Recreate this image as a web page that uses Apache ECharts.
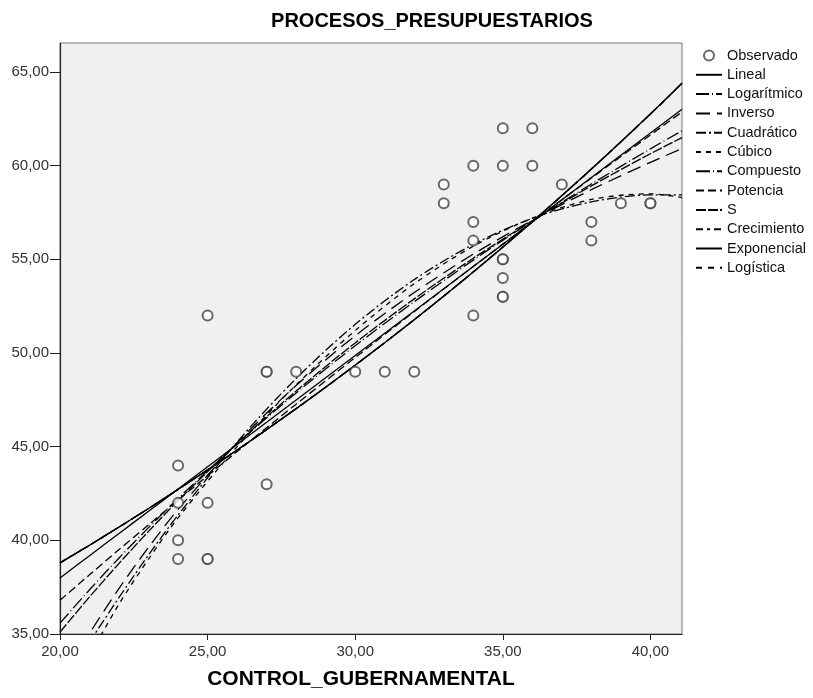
<!DOCTYPE html>
<html>
<head>
<meta charset="utf-8">
<script src="https://cdn.jsdelivr.net/npm/echarts@6/dist/echarts.min.js"></script>
<style>
  html, body { margin: 0; padding: 0; background: #fff; }
  #chart { width: 813px; height: 698px; }
</style>
</head>
<body>
<div id="chart"></div>
<script>
// observed points (CONTROL_GUBERNAMENTAL, PROCESOS_PRESUPUESTARIOS)
const obsX = [24, 24, 24, 24, 25, 25, 25, 25, 27, 27, 27, 28, 30, 31, 32, 33, 33,
  34, 34, 34, 34, 35, 35, 35, 35, 35, 35, 35, 36, 36, 37, 38, 38, 39, 40, 40];
const obsY = [44, 42, 40, 39, 52, 42, 39, 39, 49, 49, 43, 49, 49, 49, 49, 59, 58,
  60, 57, 56, 52, 62, 60, 55, 55, 54, 53, 53, 62, 60, 59, 57, 56, 58, 58, 58];

// fitted curves at these x positions
const fitX = [20, 21, 22, 23, 24, 26, 28, 30, 32, 34, 36, 38, 40, 41.07];
const linear = [37.99, 39.18, 40.37, 41.55, 42.74, 45.12, 47.49, 49.87, 52.24, 54.62, 56.99, 59.37, 61.74, 63.01];
const logarithmic = [35.58, 37.36, 39.06, 40.68, 42.24, 45.16, 47.87, 50.39, 52.74, 54.96, 57.05, 59.02, 60.90, 61.86];
const inverse = [32.38, 35.03, 37.43, 39.63, 41.65, 45.21, 48.27, 50.92, 53.23, 55.28, 57.09, 58.72, 60.18, 60.91];
const quadratic = [32.05, 34.56, 36.95, 39.22, 41.35, 45.25, 48.64, 51.53, 53.92, 55.80, 57.19, 58.07, 58.44, 58.44];
const cubic = [30.6, 33.8, 36.6, 39.0, 41.2, 45.0, 48.3, 51.2, 53.7, 55.7, 57.2, 58.2, 58.5, 58.3];
const power = [36.80, 38.16, 39.51, 40.83, 42.15, 44.74, 47.27, 49.76, 52.21, 54.62, 57.00, 59.34, 61.64, 62.87];
const sCurve = [35.10, 36.98, 38.77, 40.48, 42.12, 45.17, 47.97, 50.54, 52.89, 55.06, 57.06, 58.92, 60.64, 61.50];
// compound, growth, exponential and logistic give the same curve
const compound = [38.80, 39.74, 40.71, 41.70, 42.72, 44.82, 47.03, 49.35, 51.78, 54.33, 57.01, 59.82, 62.76, 64.40];

const xTicks = [20, 25, 30, 35, 40];
const yTicks = [35, 40, 45, 50, 55, 60, 65];

const fmt = v => v.toFixed(2).replace('.', ',');
const font = 'Liberation Sans, Arial, sans-serif';
const hidden = { color: 'rgba(0,0,0,0)', borderColor: 'rgba(0,0,0,0)', borderWidth: 0 };

function curve(name, ys, dash) {
  return {
    name: name,
    type: 'line',
    data: fitX.map((x, i) => [x, ys[i]]),
    smooth: 0.3,
    symbol: 'none',
    clip: true,
    lineStyle: { color: '#000', width: 1.3, type: dash },
    itemStyle: { color: '#000' },
    z: 3
  };
}

const names = ['Lineal', 'Logarítmico', 'Inverso', 'Cuadrático', 'Cúbico', 'Compuesto',
  'Potencia', 'S', 'Crecimiento', 'Exponencial', 'Logística'];

const chart = echarts.init(document.getElementById('chart'));

chart.setOption({
  animation: false,
  backgroundColor: '#fff',
  title: {
    text: 'PROCESOS_PRESUPUESTARIOS',
    left: 427,
    textAlign: 'center',
    top: 6,
    textStyle: { fontFamily: font, fontWeight: 'bold', fontSize: 20, color: '#000' }
  },
  legend: {
    orient: 'vertical',
    left: 695,
    top: 48,
    padding: 0,
    itemWidth: 26,
    itemHeight: 10,
    itemGap: 4.3,
    textStyle: { fontFamily: font, fontSize: 14.5, color: '#111' },
    data: [{ name: 'Observado' }].concat(names.map(n => ({ name: n, itemStyle: hidden })))
  },
  grid: {
    left: 60, top: 43, right: 131, bottom: 64,
    show: true,
    backgroundColor: '#f0f0f0',
    borderColor: '#777',
    borderWidth: 1
  },
  xAxis: {
    type: 'value',
    min: 20,
    max: 41.07,
    name: 'CONTROL_GUBERNAMENTAL',
    nameLocation: 'middle',
    nameGap: 35,
    nameTextStyle: { fontFamily: font, fontWeight: 'bold', fontSize: 21, color: '#000',
      padding: [0, 20, 0, 0] },
    splitLine: { show: false },
    axisLine: { lineStyle: { color: '#222', width: 1.2 } },
    axisTick: { length: 6, lineStyle: { color: '#222' }, customValues: xTicks },
    axisLabel: { fontFamily: font, fontSize: 15, color: '#333', margin: 10,
      customValues: xTicks, formatter: fmt }
  },
  yAxis: {
    type: 'value',
    min: 35,
    max: 66.55,
    splitLine: { show: false },
    axisLine: { show: true, lineStyle: { color: '#222', width: 1.2 } },
    axisTick: { show: true, length: 10, lineStyle: { color: '#222' }, customValues: yTicks },
    axisLabel: { fontFamily: font, fontSize: 15, color: '#333', margin: 11,
      customValues: yTicks, formatter: fmt }
  },
  series: [
    {
      name: 'Observado',
      type: 'scatter',
      data: obsX.map((x, i) => [x, obsY[i]]),
      symbol: 'emptyCircle',
      symbolSize: 10,
      itemStyle: { color: '#444', borderColor: '#444', borderWidth: 1.4 },
      z: 4
    },
    curve('Lineal', linear, 'solid'),
    curve('Logarítmico', logarithmic, [13, 3, 1, 3]),
    curve('Inverso', inverse, [14, 7]),
    curve('Cuadrático', quadratic, [10, 3, 2, 3]),
    curve('Cúbico', cubic, [5, 5]),
    curve('Compuesto', compound, [14, 3, 1, 3]),
    curve('Potencia', power, [8, 4]),
    curve('S', sCurve, [10, 2]),
    curve('Crecimiento', compound, [7, 4, 3, 4]),
    curve('Exponencial', compound, 'solid'),
    curve('Logística', compound, [6, 6])
  ]
});
</script>
</body>
</html>
